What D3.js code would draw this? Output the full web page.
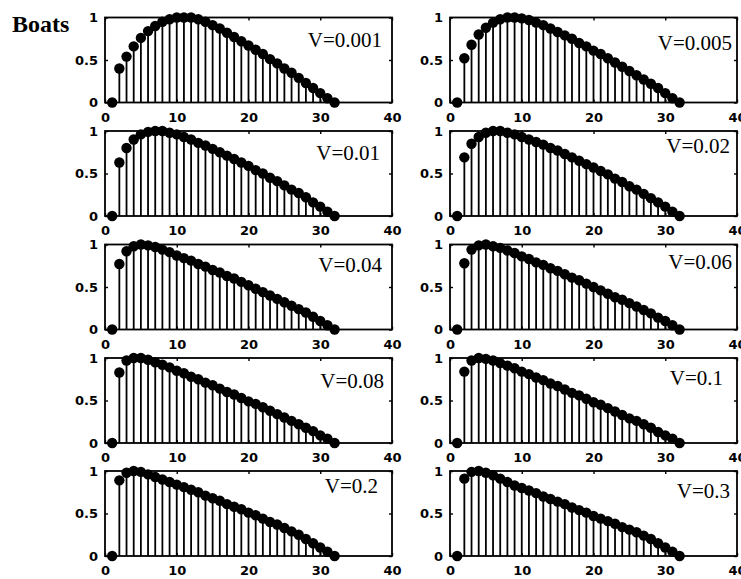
<!DOCTYPE html>
<html>
<head>
<meta charset="utf-8">
<script src="https://cdn.jsdelivr.net/npm/d3@7"></script>
<style>
  body { margin: 0; background: #fff; }
  svg { display: block; background: #fff; }
  .tick text { font-family: "DejaVu Sans", "Liberation Sans", Arial, sans-serif; font-weight: bold; font-size: 13px; fill: #000; }
  .tick line { stroke: #000; stroke-width: 1.4; }
  .vlabel { font-family: "Liberation Serif", "Times New Roman", serif; font-size: 21px; fill: #000; }
  .title { font-family: "Liberation Serif", "Times New Roman", serif; font-size: 24px; font-weight: bold; fill: #000; }
</style>
</head>
<body>
<svg id="chart" width="741" height="579"></svg>
<script>
// data
const title = "Boats";
const speeds = ["V=0.001", "V=0.005", "V=0.01", "V=0.02", "V=0.04", "V=0.06", "V=0.08", "V=0.1", "V=0.2", "V=0.3"];
const lags = [1, 2, 3, 4, 5, 6, 7, 8, 9, 10, 11, 12, 13, 14, 15, 16, 17, 18, 19, 20, 21, 22, 23, 24, 25, 26, 27, 28, 29, 30, 31, 32];
const xTicks = [0, 10, 20, 30, 40];
const yTicks = [0, 0.5, 1];

const v0001 = [0, 0.40, 0.54, 0.66, 0.76, 0.84, 0.90, 0.95, 0.98, 1.00, 1.00, 1.00, 0.98, 0.95, 0.91, 0.87, 0.82, 0.77, 0.72, 0.67, 0.62, 0.57, 0.51, 0.46, 0.40, 0.35, 0.29, 0.23, 0.17, 0.11, 0.05, 0];
const v0005 = [0, 0.52, 0.68, 0.80, 0.88, 0.94, 0.98, 1.00, 1.00, 0.99, 0.97, 0.94, 0.91, 0.87, 0.83, 0.79, 0.75, 0.70, 0.66, 0.61, 0.57, 0.52, 0.47, 0.42, 0.37, 0.32, 0.27, 0.22, 0.17, 0.11, 0.05, 0];
const v001 = [0, 0.63, 0.80, 0.90, 0.96, 0.99, 1.00, 1.00, 0.98, 0.96, 0.93, 0.90, 0.86, 0.83, 0.79, 0.75, 0.71, 0.67, 0.63, 0.59, 0.54, 0.50, 0.45, 0.41, 0.36, 0.31, 0.27, 0.22, 0.16, 0.11, 0.05, 0];
const v002 = [0, 0.69, 0.85, 0.93, 0.98, 1.00, 1.00, 0.98, 0.96, 0.93, 0.90, 0.87, 0.84, 0.80, 0.77, 0.73, 0.69, 0.65, 0.61, 0.57, 0.53, 0.49, 0.44, 0.40, 0.35, 0.31, 0.26, 0.21, 0.16, 0.11, 0.05, 0];
const v004 = [0, 0.77, 0.92, 0.98, 1.00, 0.99, 0.97, 0.94, 0.91, 0.87, 0.84, 0.81, 0.77, 0.74, 0.70, 0.67, 0.63, 0.60, 0.56, 0.52, 0.48, 0.44, 0.40, 0.36, 0.32, 0.28, 0.24, 0.20, 0.15, 0.10, 0.05, 0];
const v006 = [0, 0.78, 0.94, 0.99, 1.00, 0.98, 0.96, 0.93, 0.90, 0.86, 0.83, 0.79, 0.76, 0.72, 0.69, 0.65, 0.61, 0.58, 0.54, 0.50, 0.46, 0.42, 0.38, 0.35, 0.31, 0.27, 0.23, 0.19, 0.14, 0.10, 0.05, 0];
const v008 = [0, 0.83, 0.97, 1.00, 1.00, 0.98, 0.95, 0.92, 0.89, 0.85, 0.82, 0.78, 0.75, 0.71, 0.68, 0.64, 0.60, 0.57, 0.53, 0.49, 0.46, 0.42, 0.38, 0.34, 0.30, 0.26, 0.22, 0.18, 0.14, 0.09, 0.05, 0];
const v01 = [0, 0.84, 0.97, 1.00, 0.99, 0.97, 0.94, 0.91, 0.88, 0.84, 0.81, 0.77, 0.74, 0.70, 0.67, 0.63, 0.59, 0.56, 0.52, 0.48, 0.45, 0.41, 0.37, 0.33, 0.29, 0.26, 0.22, 0.18, 0.13, 0.09, 0.05, 0];
const v02 = [0, 0.89, 0.98, 1.00, 0.99, 0.96, 0.93, 0.90, 0.87, 0.84, 0.81, 0.78, 0.75, 0.71, 0.68, 0.65, 0.61, 0.58, 0.55, 0.51, 0.48, 0.44, 0.40, 0.37, 0.33, 0.29, 0.25, 0.20, 0.15, 0.10, 0.05, 0];
const v03 = [0, 0.91, 0.99, 1.00, 0.98, 0.95, 0.91, 0.87, 0.83, 0.80, 0.77, 0.74, 0.70, 0.67, 0.64, 0.61, 0.57, 0.54, 0.51, 0.47, 0.44, 0.41, 0.38, 0.34, 0.31, 0.28, 0.24, 0.20, 0.15, 0.10, 0.05, 0];

const series = [v0001, v0005, v001, v002, v004, v006, v008, v01, v02, v03];

// layout
const colLeft = [105, 450];
const rowTop = [17.5, 131, 244.5, 358, 471];
const W = 287, H = 85;
// where the V= labels sit (px in from right edge, px down from top to centre)
const labelIn = [10, 5, 12, 7, 10, 5, 8, 14, 14, 7];
const labelDown = [22, 25, 22, 15, 20, 17, 23, 20, 15, 20];

const svg = d3.select('#chart');

svg.append('text')
  .attr('class', 'title')
  .attr('x', 12)
  .attr('y', 32)
  .text(title);

const x = d3.scaleLinear().domain([0, 40]).range([0, W]);
const y = d3.scaleLinear().domain([0, 1]).range([H, 0]);

series.forEach(function(vals, i) {
  const g = svg.append('g')
    .attr('transform', 'translate(' + colLeft[i % 2] + ',' + rowTop[Math.floor(i / 2)] + ')');

  // axes, ticks pointing inward
  g.append('g').attr('transform', 'translate(0,' + H + ')')
    .call(d3.axisBottom(x).tickValues(xTicks).tickSize(-3).tickPadding(10).tickFormat(d3.format('d')))
    .call(a => a.select('.domain').remove());
  g.append('g')
    .call(d3.axisTop(x).tickValues(xTicks).tickSize(-3).tickFormat(''))
    .call(a => a.select('.domain').remove());
  g.append('g')
    .call(d3.axisLeft(y).tickValues(yTicks).tickSize(-3).tickPadding(7).tickFormat(d3.format('')))
    .call(a => a.select('.domain').remove());
  g.append('g').attr('transform', 'translate(' + W + ',0)')
    .call(d3.axisRight(y).tickValues(yTicks).tickSize(-3).tickFormat(''))
    .call(a => a.select('.domain').remove());
  g.selectAll('.tick text').attr('fill', '#000');

  g.append('rect')
    .attr('width', W)
    .attr('height', H)
    .attr('fill', 'none')
    .attr('stroke', '#000')
    .attr('stroke-width', 1.8);

  const pts = lags.map((k, j) => ({ k: k, v: vals[j] }));

  g.selectAll('line.stem')
    .data(pts)
    .enter()
    .append('line')
    .attr('class', 'stem')
    .attr('x1', d => x(d.k))
    .attr('x2', d => x(d.k))
    .attr('y1', y(0))
    .attr('y2', d => y(d.v))
    .attr('stroke', '#000')
    .attr('stroke-width', 1.8);

  g.selectAll('circle')
    .data(pts)
    .enter()
    .append('circle')
    .attr('cx', d => x(d.k))
    .attr('cy', d => y(d.v))
    .attr('r', 5.2)
    .attr('fill', '#000');

  g.append('text')
    .attr('class', 'vlabel')
    .attr('x', W - labelIn[i])
    .attr('y', labelDown[i])
    .attr('dy', '0.35em')
    .attr('text-anchor', 'end')
    .text(speeds[i]);
});
</script>
</body>
</html>
